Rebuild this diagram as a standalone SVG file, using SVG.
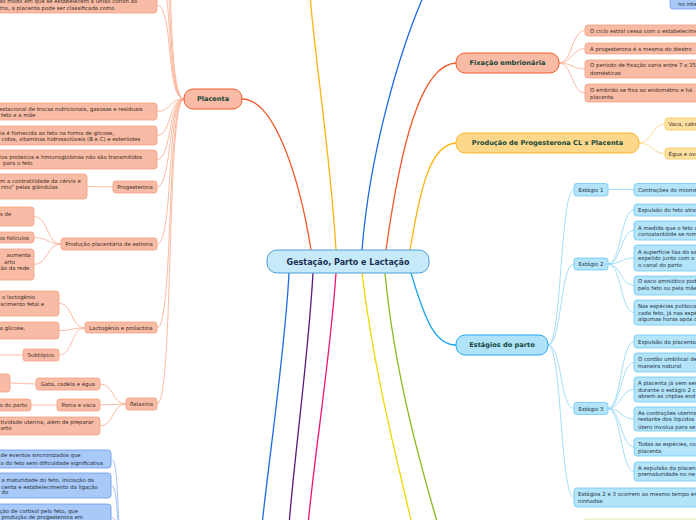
<svg xmlns="http://www.w3.org/2000/svg" width="696" height="520" viewBox="0 0 696 520">
<style>
text{font-family:"DejaVu Sans","Liberation Sans",sans-serif}
.s{font-size:5.4px;fill:#3b2a20}
.sb{font-size:5.4px;fill:#1d3040}
.m{font-size:6.6px;font-weight:bold;fill:#17473a;text-anchor:middle}
.mc{font-size:8px;font-weight:bold;fill:#1b2f52;text-anchor:middle}
.sm{font-size:5.4px;fill:#3b2a20;text-anchor:middle}
.smb{font-size:5.4px;fill:#1d3040;text-anchor:middle}
.lo{fill:#f8bca6;stroke:#f4a081;stroke-width:0.8}
.mo{fill:#f9bba5;stroke:#f15a29;stroke-width:1}
.ly{fill:#fde1a2;stroke:#fcc653;stroke-width:0.8}
.my{fill:#fdd88b;stroke:#fbb22a;stroke-width:1}
.lb{fill:#b3e4fa;stroke:#6cc8f2;stroke-width:0.8}
.mb{fill:#b0e3fa;stroke:#1ea7ee;stroke-width:1}
.lbb{fill:#a9c9f8;stroke:#6a9bea;stroke-width:0.8}
.c{fill:none}
.co{stroke:#f9a98c;stroke-width:0.8}
.cy{stroke:#fcd37a;stroke-width:0.8}
.cb{stroke:#8fd4f5;stroke-width:0.8}
.cbb{stroke:#8db4f0;stroke-width:0.8}
</style>
<g id="connectors" class="c">
<path d="M311,250 C300,180 275,99 242,99" stroke="#f2592a" stroke-width="1.3"/>
<path d="M336,250 C330,150 315,60 310,-5" stroke="#fbb415" stroke-width="1.3"/>
<path d="M362,250 C370,150 400,50 424,-5" stroke="#1d6ae5" stroke-width="1.3"/>
<path d="M386,250 C400,150 420,63 457,63" stroke="#f2592a" stroke-width="1.3"/>
<path d="M410,250 C420,190 430,143 457,143" stroke="#fbb415" stroke-width="1.3"/>
<path d="M411,273 C425,320 435,345 456,345" stroke="#19a6ec" stroke-width="1.3"/>
<path d="M289,273 C285,350 270,450 262,525" stroke="#1d6ae5" stroke-width="1.3"/>
<path d="M313,273 C308,360 295,450 289,525" stroke="#5a1a7a" stroke-width="1.3"/>
<path d="M336,273 C330,360 315,450 308,525" stroke="#f0146e" stroke-width="1.3"/>
<path d="M362,273 C375,380 400,470 412,525" stroke="#f0d800" stroke-width="1.3"/>
<path d="M385,273 C395,380 425,480 438,525" stroke="#8ab81c" stroke-width="1.3"/>
<g class="co">
<path d="M184,99 C165,99 176,-100 157,-100"/>
<path d="M184,99 C165,99 175,-60 157,-60"/>
<path d="M184,99 C165,99 174,-30 157,-30"/>
<path d="M184,99 C165,99 174,5 157,5"/>
<path d="M184,99 C168,99 172,111.5 157,111.5"/>
<path d="M184,99 C168,99 172,135.5 157,135.5"/>
<path d="M184,99 C168,99 172,159.5 157,159.5"/>
<path d="M184,99 C168,99 172,187 157,187"/>
<path d="M184,99 C166,99 174,244 157,244"/>
<path d="M184,99 C166,99 174,328 157,328"/>
<path d="M184,99 C166,99 174,404 157,404"/>
<path d="M113,187 L87,186.5"/>
<path d="M61,244 C47,244 48,216.5 34,216.5"/>
<path d="M61,244 C47,244 48,237.5 34,237.5"/>
<path d="M61,244 C47,244 48,264.5 34,264.5"/>
<path d="M85,328 C71,328 73,303.5 59,303.5"/>
<path d="M85,328 C71,328 73,330.5 59,330.5"/>
<path d="M85,328 C71,328 73,355 59,355"/>
<path d="M23,355 L-2,355"/>
<path d="M126,404 C112,404 114,384 100,384"/>
<path d="M126,404 L100,405"/>
<path d="M126,404 C112,404 114,426 100,426"/>
<path d="M36,384 L10,383"/>
<path d="M57,405 L31,405"/>
<path d="M559,63 C572,63 572,30.5 585,30.5"/>
<path d="M559,63 C572,63 572,48.5 585,48.5"/>
<path d="M559,63 C572,63 572,69 585,69"/>
<path d="M559,63 C572,63 572,93 585,93"/>
</g>
<g class="cy">
<path d="M639,143 C652,143 652,124 665,124"/>
<path d="M639,143 C652,143 652,153.5 665,153.5"/>
</g>
<g class="cb">
<path d="M548,345 C562,345 560,189.5 574,189.5"/>
<path d="M548,345 C562,345 560,264 574,264"/>
<path d="M548,345 C562,345 560,408.5 574,408.5"/>
<path d="M548,345 C562,345 560,497.5 574,497.5"/>
<path d="M608,189.5 L634,189.5"/>
<path d="M608,264 C621,264 621,210 634,210"/>
<path d="M608,264 C621,264 621,230.5 634,230.5"/>
<path d="M608,264 C621,264 621,258 634,258"/>
<path d="M608,264 C621,264 621,285.5 634,285.5"/>
<path d="M608,264 C621,264 621,312.5 634,312.5"/>
<path d="M608,408.5 C621,408.5 621,341.5 634,341.5"/>
<path d="M608,408.5 C621,408.5 621,362.5 634,362.5"/>
<path d="M608,408.5 C621,408.5 621,389.5 634,389.5"/>
<path d="M608,408.5 C621,408.5 621,419 634,419"/>
<path d="M608,408.5 C621,408.5 621,447 634,447"/>
<path d="M608,408.5 C621,408.5 621,471.5 634,471.5"/>
</g>
<g class="cbb">
<path d="M111,459 C118,459 117,500 121,560"/>
<path d="M111,485.5 C117,485.5 117,510 120,560"/>
<path d="M111,517 C116,517 118,530 119,560"/>
</g>
</g>
<g id="central"><rect x="267" y="250" width="162" height="23" rx="10" fill="#c7eafb" stroke="#4b9fd9" stroke-width="1"/><text class="mc" x="348" y="264.8">Gestação, Parto e Lactação</text></g>
<g id="placenta"><rect class="mo" x="184" y="89" width="58" height="20" rx="9"/><text class="m" x="213" y="101.4">Placenta</text></g>
<g id="p1"><rect class="lo" x="-10" y="-12" width="167" height="25" rx="3"/><text class="s" x="-1" y="3">ao modo em que se estabelecem a união corion ao</text><text class="s" x="-1" y="9.6">trio, a placenta pode ser classificada como</text></g>
<g id="p2"><rect class="lo" x="-10" y="103" width="167" height="17" rx="3"/><text class="s" x="-1" y="110.6">estacional de trocas nutricionais, gasosas e residuais</text><text class="s" x="1" y="117.4">feto e a mãe</text></g>
<g id="p3"><rect class="lo" x="-10" y="126" width="167" height="19" rx="3"/><text class="s" x="0" y="134.6">ia é fornecida ao feto na forma de glicose,</text><text class="s" x="1.5" y="141">cidos, vitaminas hidrossolúveis (B e C) e esteróides</text></g>
<g id="p4"><rect class="lo" x="-10" y="150" width="167" height="19" rx="3"/><text class="s" x="0" y="158.6">ios proteicos e himunoglobinas não são transmitidos</text><text class="s" x="3" y="164.6">para o feto</text></g>
<g id="progesterona"><rect class="lo" x="113" y="181" width="44" height="12" rx="2.5"/><text class="sm" x="135" y="189">Progesterona</text></g>
<g id="prog1"><rect class="lo" x="-10" y="174" width="97" height="25" rx="3"/><text class="s" x="0" y="183">m a contratilidade da cérvix e</text><text class="s" x="1" y="189">rino” pelas glândulas</text></g>
<g id="estrona"><rect class="lo" x="61" y="238" width="96" height="12" rx="2.5"/><text class="sm" x="109" y="246">Produção placentária de estrona</text></g>
<g id="e1"><rect class="lo" x="-10" y="207" width="44" height="19" rx="3"/><text class="s" x="0" y="216">s de</text></g>
<g id="e2"><rect class="lo" x="-10" y="232" width="44" height="11" rx="3"/><text class="s" x="-1" y="240">os folículos</text></g>
<g id="e3"><rect class="lo" x="-10" y="249" width="44" height="31" rx="3"/><text class="s" x="6.5" y="257">aumenta</text><text class="s" x="4" y="264">arto</text><text class="s" x="0.5" y="270">ão da rede</text></g>
<g id="lactogenio"><rect class="lo" x="85" y="322" width="72" height="11" rx="2.5"/><text class="sm" x="121" y="329.8">Lactogênio e prolactina</text></g>
<g id="l1"><rect class="lo" x="-10" y="291" width="69" height="25" rx="3"/><text class="s" x="2" y="298.6">o lactogênio</text><text class="s" x="0.5" y="306">scimento fetal e</text></g>
<g id="l2"><rect class="lo" x="-10" y="322" width="69" height="17" rx="3"/><text class="s" x="-0.5" y="330.2">a glicose,</text></g>
<g id="subtopico"><rect class="lo" x="23" y="349" width="36" height="12" rx="2.5"/><text class="sm" x="41" y="357">Subtópico</text></g>
<g id="relaxina"><rect class="lo" x="126" y="398" width="31" height="12" rx="2.5"/><text class="sm" x="141.5" y="406">Relaxina</text></g>
<g id="gata"><rect class="lo" x="36" y="378" width="64" height="12" rx="2.5"/><text class="sm" x="68" y="386">Gata, cadela e égua</text></g>
<g id="gata1"><rect class="lo" x="-10" y="374" width="20" height="18" rx="3"/></g>
<g id="porca"><rect class="lo" x="57" y="399" width="43" height="12" rx="2.5"/><text class="sm" x="78.5" y="407">Porca e vaca</text></g>
<g id="porca1"><rect class="lo" x="-10" y="399" width="41" height="12" rx="3"/><text class="s" x="-0.5" y="407">o do parto</text></g>
<g id="r3"><rect class="lo" x="-10" y="417" width="110" height="18" rx="3"/><text class="s" x="0.5" y="424.3">tividade uterina, além de preparar</text><text class="s" x="0.5" y="430.3">arto</text></g>
<g id="b1"><rect class="lbb" x="-10" y="450" width="121" height="18" rx="3"/><text class="sb" x="0.5" y="457.3">de eventos sincronizados que</text><text class="sb" x="0.5" y="465">o do feto sem dificuldade significativa</text></g>
<g id="b2"><rect class="lbb" x="-10" y="473" width="121" height="25" rx="3"/><text class="sb" x="1.5" y="482">a maturidade do feto, iniciação da</text><text class="sb" x="1.5" y="488.7">centa e estabelecimento da ligação</text><text class="sb" x="1.5" y="494.3">do</text></g>
<g id="b3"><rect class="lbb" x="-10" y="504" width="121" height="30" rx="3"/><text class="sb" x="-0.5" y="512.7">ção de cortisol pelo feto, que</text><text class="sb" x="1.5" y="519.3">produção de progesterona em</text></g>
<g id="topblue"><rect class="lbb" x="670" y="-12" width="60" height="21" rx="3"/><text class="sb" x="678" y="5.8">no inte</text></g>
<g id="fixacao"><rect class="mo" x="456" y="53" width="103" height="20" rx="9"/><text class="m" x="507.5" y="65.4">Fixação embrionária</text></g>
<g id="f1"><rect class="lo" x="585" y="25" width="150" height="11" rx="3"/><text class="s" x="590" y="32.5">O ciclo estral cessa com o estabelecimento</text></g>
<g id="f2"><rect class="lo" x="585" y="43" width="150" height="11" rx="3"/><text class="s" x="590" y="50.5">A progesterona é a mesma do diestro</text></g>
<g id="f3"><rect class="lo" x="585" y="60" width="150" height="18" rx="3"/><text class="s" x="590" y="67">O período de fixação varia entre 7 a 35</text><text class="s" x="590" y="74.7">domésticas</text></g>
<g id="f4"><rect class="lo" x="585" y="84" width="150" height="18" rx="3"/><text class="s" x="590" y="92">O embrião se fixa ao endométrio e há</text><text class="s" x="590" y="99">placenta</text></g>
<g id="producao"><rect class="my" x="456" y="133" width="183" height="20" rx="9"/><text class="m" x="547.5" y="145.4">Produção de Progesterona CL x Placenta</text></g>
<g id="y1"><rect class="ly" x="665" y="118" width="60" height="12" rx="3"/><text class="s" x="668.5" y="126">Vaca, cabra</text></g>
<g id="y2"><rect class="ly" x="665" y="148" width="60" height="11" rx="3"/><text class="s" x="668.5" y="155.5">Égua e ovelha</text></g>
<g id="estagios"><rect class="mb" x="456" y="335" width="92" height="20" rx="9"/><text class="m" x="502" y="347.4">Estágios do parto</text></g>
<g id="est1"><rect class="lb" x="574" y="183.5" width="34" height="12.5" rx="2.5"/><text class="smb" x="591" y="191.8">Estágio 1</text></g>
<g id="est1a"><rect class="lb" x="634" y="183.5" width="100" height="12.5" rx="3"/><text class="sb" x="638" y="192">Contrações do miométrio</text></g>
<g id="est2"><rect class="lb" x="574" y="258" width="34" height="12" rx="2.5"/><text class="smb" x="591" y="266">Estágio 2</text></g>
<g id="est2a"><rect class="lb" x="634" y="204" width="100" height="12" rx="3"/><text class="sb" x="638" y="212">Expulsão do feto através</text></g>
<g id="est2b"><rect class="lb" x="634" y="221" width="100" height="19" rx="3"/><text class="sb" x="638" y="229.7">A medida que o feto a</text><text class="sb" x="638" y="236">corioalantóide se romp</text></g>
<g id="est2c"><rect class="lb" x="634" y="245" width="100" height="26" rx="3"/><text class="sb" x="638" y="253.7">A superfície lisa do sa</text><text class="sb" x="638" y="260.3">expelido junto com o f</text><text class="sb" x="638" y="267">o canal do parto</text></g>
<g id="est2d"><rect class="lb" x="634" y="276" width="100" height="19" rx="3"/><text class="sb" x="638" y="283">O saco amniótico pode</text><text class="sb" x="638" y="290.3">pelo feto ou pela mãe</text></g>
<g id="est2e"><rect class="lb" x="634" y="300" width="100" height="25" rx="3"/><text class="sb" x="638" y="308">Nas espécies politocas</text><text class="sb" x="638" y="314.7">cada feto, já nas espé</text><text class="sb" x="638" y="321">algumas horas após o</text></g>
<g id="est3"><rect class="lb" x="574" y="402.5" width="34" height="12" rx="2.5"/><text class="smb" x="591" y="410.5">Estágio 3</text></g>
<g id="est3a"><rect class="lb" x="634" y="335" width="100" height="13" rx="3"/><text class="sb" x="638" y="343.7">Expulsão da placenta</text></g>
<g id="est3b"><rect class="lb" x="634" y="353" width="100" height="19" rx="3"/><text class="sb" x="638" y="361">O cordão umbilical de</text><text class="sb" x="638" y="367.7">maneira natural</text></g>
<g id="est3c"><rect class="lb" x="634" y="377" width="100" height="25" rx="3"/><text class="sb" x="638" y="384.7">A placenta já vem sen</text><text class="sb" x="638" y="392">durante o estágio 2 c</text><text class="sb" x="638" y="398">abrem as criptas end</text></g>
<g id="est3d"><rect class="lb" x="634" y="407" width="100" height="24" rx="3"/><text class="sb" x="638" y="414.7">As contrações uterinas</text><text class="sb" x="638" y="421.3">restante dos líquidos</text><text class="sb" x="638" y="428.7">útero involua para se</text></g>
<g id="est3e"><rect class="lb" x="634" y="438" width="100" height="18" rx="3"/><text class="sb" x="638" y="446">Todas as espécies, co</text><text class="sb" x="638" y="452.7">placenta</text></g>
<g id="est3f"><rect class="lb" x="634" y="462" width="100" height="19" rx="3"/><text class="sb" x="638" y="469.7">A expulsão da placen</text><text class="sb" x="638" y="476.3">prematuridade no ne</text></g>
<g id="est23"><rect class="lb" x="574" y="488" width="160" height="19" rx="3"/><text class="sb" x="578" y="496">Estágios 2 e 3 ocorrem ao mesmo tempo em</text><text class="sb" x="578" y="503">ninhadas</text></g>
<g id="bottomnode"><rect x="583" y="519" width="140" height="20" rx="3" fill="#f6f6dc" stroke="#e8e8b8" stroke-width="0.8"/></g>
</svg>
